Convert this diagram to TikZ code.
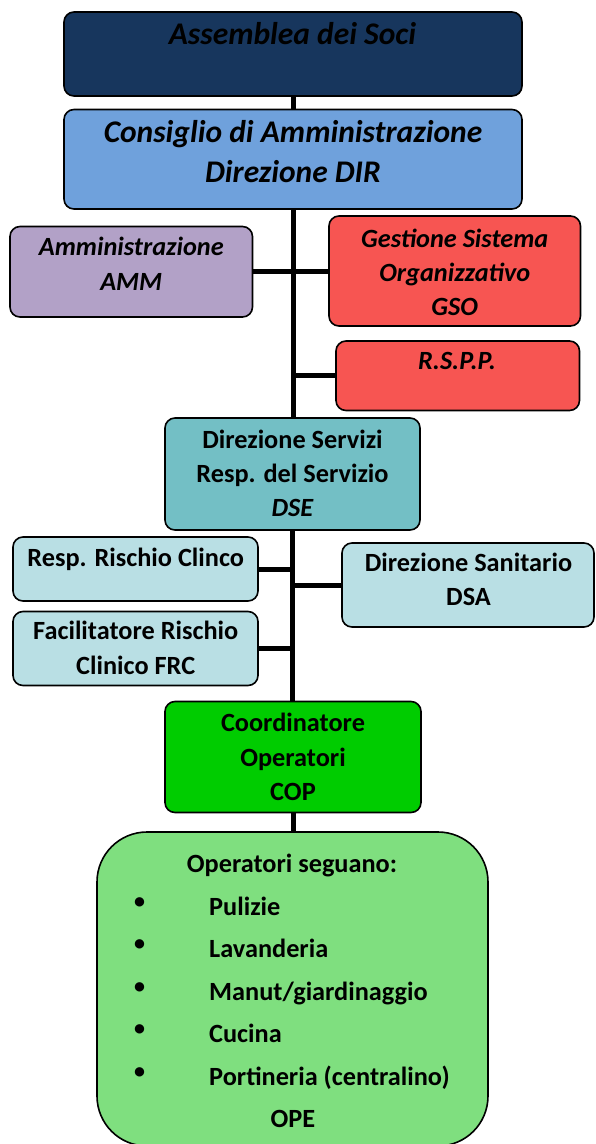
\documentclass[tikz,border=0pt]{standalone}
\usepackage{fontspec}
\setmainfont{Carlito}
\newcommand\sA{\rule[-7pt]{0pt}{33pt}}
\newcommand\sB{\rule[-8pt]{0pt}{38.6pt}}
\definecolor{cNavy}{RGB}{23,54,93}
\definecolor{cBlue}{RGB}{111,161,220}
\definecolor{cLilac}{RGB}{178,161,199}
\definecolor{cRed}{RGB}{247,85,82}
\definecolor{cTeal}{RGB}{115,191,197}
\definecolor{cPale}{RGB}{185,223,228}
\definecolor{cGreen}{RGB}{0,204,0}
\definecolor{cLGreen}{RGB}{127,223,127}
\begin{document}
\begin{tikzpicture}[x=1pt,y=-1pt,
  box/.style={draw=black, line width=1.6pt, rounded corners=10pt, inner sep=0pt},
  conn/.style={draw=black, line width=5pt},
  txt/.style={inner sep=0pt, align=center, font=\bfseries\fontsize{26.3}{35}\selectfont},
  bigtxt/.style={inner sep=0pt, align=center, font=\bfseries\itshape\fontsize{31.5}{40.5}\selectfont}
]
\useasboundingbox (0,0) rectangle (595,1144);

% boxes
\node[box, fill=cNavy, minimum width=458pt, minimum height=84pt] (ass) at (293,54) {};
\node[box, fill=cBlue, minimum width=458pt, minimum height=99.5pt] (cda) at (293,159.25) {};
\node[box, fill=cLilac, minimum width=242.5pt, minimum height=90.5pt] (amm) at (131.25,271.75) {};
\node[box, fill=cRed, minimum width=251.5pt, minimum height=110pt] (gso) at (454.75,271) {};
\node[box, fill=cRed, minimum width=243.5pt, minimum height=69.5pt] (rspp) at (457.75,375.75) {};
\node[box, fill=cTeal, minimum width=255pt, minimum height=112pt] (dse) at (292.5,474) {};
\node[box, fill=cPale, minimum width=245pt, minimum height=64pt] (resp) at (135.5,569) {};
\node[box, fill=cPale, minimum width=245pt, minimum height=74pt] (facil) at (135.5,648.5) {};
\node[box, fill=cPale, minimum width=252pt, minimum height=84pt] (dsa) at (468,585) {};
\node[box, fill=cGreen, minimum width=256pt, minimum height=111pt] (cop) at (293,757) {};
\node[box, fill=cLGreen, rounded corners=50pt, minimum width=391pt, minimum height=314pt] (ope) at (292.5,989) {};

% connectors
\draw[conn] (ass.south) -- (cda.north);
\draw[conn] (cda.south) -- (cda.south |- dse.north);
\draw[conn] (dse.south) -- (dse.south |- cop.north);
\draw[conn] (cop.south) -- (cop.south |- ope.north);
\draw[conn] (amm.east) -- (amm.east -| gso.west);
\draw[conn] (rspp.west) -- (rspp.west -| cda.south);
\draw[conn] (resp.east) -- (resp.east -| dse.south);
\draw[conn] (facil.east) -- (facil.east -| dse.south);
\draw[conn] (dsa.west) -- (dsa.west -| dse.south);

% texts
\node[bigtxt] (assT) at (292.5,33.5) {\sB Assemblea dei Soci};
\node[bigtxt] (cdaT) at (293,151.25) {\sB Consiglio di Amministrazione\\\sB Direzione DIR};
\node[txt, font=\bfseries\itshape\fontsize{26.3}{35}\selectfont] (ammT) at (131.25,263.5) {\sA Amministrazione\\\sA AMM};
\node[txt, font=\bfseries\itshape\fontsize{26.3}{34}\selectfont] (gsoT) at (454.75,271.8) {\sA Gestione Sistema\\\sA Organizzativo\\\sA GSO};
\node[txt, font=\bfseries\itshape\fontsize{26.3}{34}\selectfont] (rsppT) at (457,360) {\sA R.S.P.P.};
\node[txt, font=\bfseries\fontsize{26.3}{34}\selectfont] (dseT) at (292.5,473) {\sA Direzione Servizi\\\sA Resp. del Servizio\\\sA\itshape DSE};
\node[txt] (respT) at (135.7,556.5) {\sA Resp. Rischio Clinco};
\node[txt, font=\bfseries\fontsize{26.3}{34.5}\selectfont] (facilT) at (135.7,647.5) {\sA Facilitatore Rischio\\\sA Clinico FRC};
\node[txt, font=\bfseries\fontsize{26.3}{33.5}\selectfont] (dsaT) at (468.5,579) {\sA Direzione Sanitario\\\sA DSA};
\node[txt, font=\bfseries\fontsize{26.3}{34.5}\selectfont] (copT) at (293,756.5) {\sA Coordinatore\\\sA Operatori\\\sA COP};

\node[txt] (opeH) at (292,863) {\sA Operatori seguano:};
\node[txt, align=left, anchor=west, font=\bfseries\fontsize{26.3}{42.5}\selectfont] (opeL) at (209,990.5)
  {\sA Pulizie\\\sA Lavanderia\\\sA Manut/giardinaggio\\\sA Cucina\\\sA Portineria (centralino)};
\node[txt, font=\bfseries\fontsize{22}{42.5}\selectfont] (opeB) at (139.5,983.5)
  {\sA •\\\sA •\\\sA •\\\sA •\\\sA •};
\node[txt] (opeT) at (293,1118) {\sA OPE};
\end{tikzpicture}
\end{document}
